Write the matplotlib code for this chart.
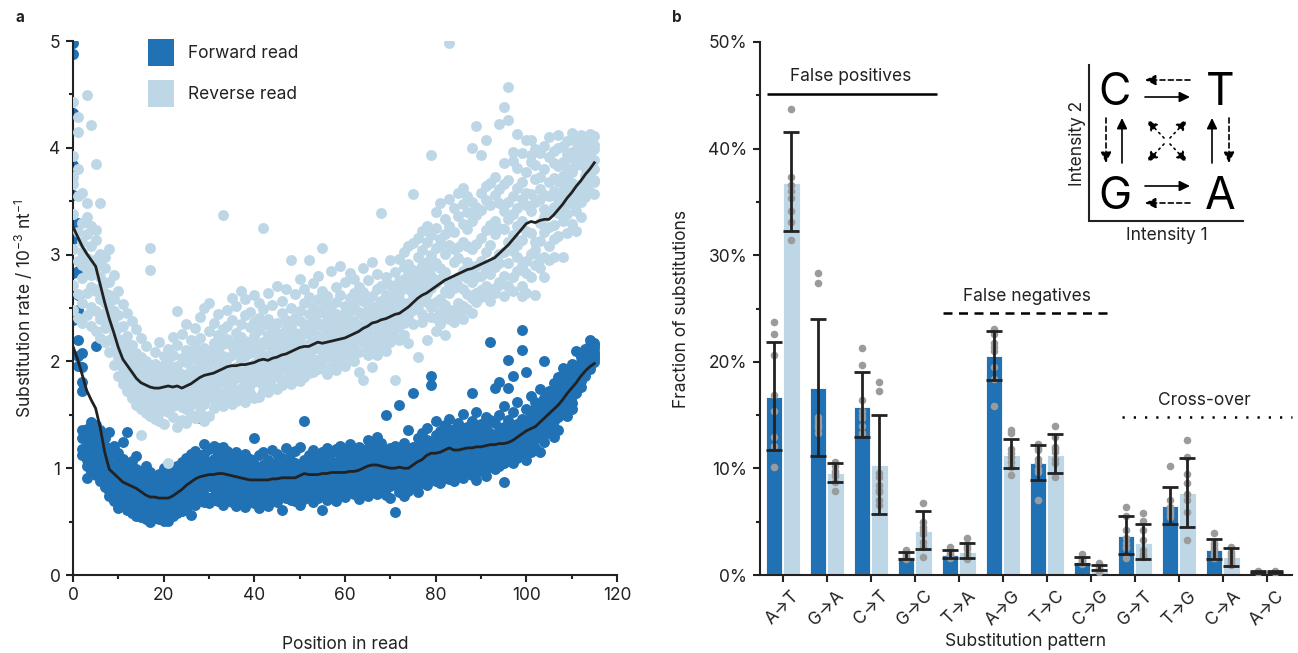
import numpy as np
import matplotlib
matplotlib.use('Agg')
import matplotlib.pyplot as plt
from matplotlib.patches import Patch
from matplotlib.ticker import MultipleLocator, FuncFormatter

plt.rcParams['font.family'] = ['Inter', 'DejaVu Sans']
plt.rcParams['mathtext.fontset'] = 'custom'
plt.rcParams['mathtext.rm'] = 'Inter'
plt.rcParams['mathtext.default'] = 'regular'
plt.rcParams['text.color'] = '#222222'
plt.rcParams['axes.labelcolor'] = '#222222'
plt.rcParams['xtick.color'] = '#222222'
plt.rcParams['ytick.color'] = '#222222'

DARK = '#2171b5'
LIGHT = '#bdd7e7'
INK = '#222222'
FS = 12.5

# ---------------- panel a data: substitution rate per read position ----------------
# one row per position (0..115), 8 samples per row
fwd_rows = """
4.98 4.88 4.33 3.84 3.56 3.15 2.83 2.39
3.30 2.62 2.41 2.20 2.85 2.05 1.96 2.48
2.08 1.95 1.81 1.72 1.36 1.28 1.18 1.12
1.37 1.31 1.19 1.26 1.08 0.91 1.02 1.14
1.43 1.22 1.33 1.05 0.96 1.17 1.28 0.99
2.14 1.40 1.18 1.29 1.09 0.94 1.03 1.23
1.36 1.12 1.25 0.97 1.06 0.88 1.19 1.01
1.28 1.15 0.93 1.07 0.86 1.21 0.99 0.82
1.34 1.03 1.18 0.90 0.79 1.11 0.95 0.74
1.12 0.96 1.21 0.84 0.69 1.02 0.89 0.77
1.05 0.92 0.71 1.14 0.81 0.98 0.63 0.87
0.99 1.09 0.76 0.85 0.66 0.93 1.25 0.72
1.34 0.85 0.96 0.72 0.61 0.90 0.79 1.02
0.94 0.82 1.07 0.70 0.58 0.87 0.66 0.75
1.11 0.78 0.91 0.68 0.55 0.99 0.73 0.62
0.88 0.97 0.66 0.81 0.54 0.74 0.92 0.60
1.02 0.75 0.86 0.63 0.52 0.70 0.94 0.58
0.83 0.96 0.61 0.73 0.50 0.78 0.67 0.55
0.91 0.69 0.79 0.60 0.53 0.84 0.64 0.74
0.86 0.71 0.95 0.57 0.52 0.76 0.65 0.81
1.00 0.68 0.81 0.58 0.51 0.73 0.62 0.89
0.93 0.66 0.77 0.60 0.51 0.84 0.71 0.56
0.80 0.97 0.64 0.74 0.55 0.88 0.69 0.59
1.02 0.78 0.87 0.65 0.58 0.72 0.93 0.61
0.91 1.06 0.68 0.81 0.60 0.75 0.99 0.86
1.10 0.85 0.96 0.72 0.62 0.79 1.02 0.67
0.94 1.13 0.81 0.56 0.88 0.75 1.04 0.69
1.16 0.91 0.99 0.74 0.66 0.85 1.08 0.79
1.47 0.93 1.05 0.80 0.70 0.98 0.86 1.12
1.23 0.84 1.02 0.75 0.92 0.68 1.13 0.96
0.97 1.18 0.83 0.72 1.06 0.89 0.67 1.01
1.09 0.86 1.21 0.74 0.95 0.70 1.03 0.81
0.93 1.14 0.78 1.02 0.69 0.88 1.19 0.84
1.20 0.82 0.97 0.73 1.08 0.90 0.66 1.01
0.89 1.05 0.77 1.16 0.94 0.71 0.85 0.99
1.12 0.79 0.91 0.68 1.03 0.87 0.74 0.96
0.84 1.07 0.95 0.72 0.88 1.15 0.65 0.81
0.98 0.76 1.10 0.83 0.69 0.92 1.01 0.80
1.06 0.87 0.73 0.97 0.64 1.13 0.82 0.90
0.81 0.94 1.09 0.70 0.86 0.75 1.00 0.93
1.28 0.88 0.79 1.04 0.67 0.92 0.84 0.97
0.91 1.12 0.76 0.85 0.63 0.99 0.87 0.80
1.03 0.78 0.93 0.68 1.15 0.82 0.89 0.72
0.86 1.01 0.74 1.08 0.90 0.65 0.95 0.83
1.17 0.89 0.80 0.96 0.71 1.02 0.85 0.77
0.92 0.75 1.06 0.84 0.98 0.68 1.13 0.87
0.80 1.10 0.91 0.61 1.00 0.86 0.76 0.94
1.04 0.83 0.96 0.72 1.19 0.88 0.79 0.93
0.87 1.07 0.70 0.95 0.82 1.14 0.90 0.78
1.00 0.79 1.16 0.86 0.69 0.93 1.05 0.84
0.91 1.20 0.83 1.02 0.74 0.97 0.88 0.66
1.44 0.86 1.08 0.77 0.99 0.92 0.71 1.03
0.95 0.81 1.12 0.89 0.73 1.04 0.84 0.97
1.09 0.90 0.76 1.17 0.85 0.94 0.68 1.01
0.82 1.06 0.93 0.72 1.13 0.87 0.99 0.80
1.02 0.61 0.88 1.15 0.79 0.96 1.08 0.85
0.93 1.11 0.77 1.00 0.86 0.70 1.19 0.91
1.07 0.84 0.98 0.74 1.14 0.89 0.81 1.03
0.88 1.18 0.92 0.79 1.05 0.69 0.95 1.01
1.12 0.83 1.03 0.90 0.75 1.21 0.87 0.97
0.95 1.09 0.80 1.16 0.88 0.99 0.73 1.04
1.01 0.86 1.23 0.93 0.78 1.08 0.91 0.82
0.89 1.13 0.97 0.76 1.05 0.84 1.18 0.94
1.20 0.92 0.83 1.07 0.95 0.71 1.02 0.88
0.96 1.15 1.04 0.81 1.10 0.90 0.77 0.99
1.08 0.87 1.19 0.96 0.74 1.03 0.92 1.26
0.93 1.22 1.00 0.85 1.11 0.79 1.06 0.97
1.14 0.98 0.84 1.09 0.91 1.29 0.76 1.02
1.01 0.88 1.17 0.95 0.80 1.06 1.24 0.92
0.90 1.50 1.03 0.86 1.12 0.97 0.75 1.08
1.10 0.94 0.83 1.19 1.00 0.89 1.05 0.72
0.96 1.21 0.87 1.04 0.59 1.13 0.92 0.99
1.59 1.06 0.91 1.15 0.81 0.98 1.09 0.78
1.02 0.93 1.24 0.86 1.11 0.74 0.97 1.07
0.88 1.17 1.00 0.83 1.36 0.95 1.08 0.79
1.12 0.97 1.70 0.90 1.05 0.82 1.20 0.99
1.01 1.28 0.89 1.14 0.93 1.06 0.78 1.19
1.24 0.95 1.10 0.86 1.33 1.02 0.91 1.07
1.09 1.38 0.94 1.18 0.84 1.04 1.26 0.99
1.86 1.78 1.12 0.97 1.23 1.05 0.90 1.15
1.02 1.31 1.16 0.93 1.08 1.44 0.88 1.20
1.27 1.05 0.95 1.19 1.12 0.86 1.35 1.01
1.11 1.40 1.00 1.22 0.92 1.15 1.06 1.29
1.33 0.97 1.17 1.08 1.46 0.90 1.24 1.03
1.05 1.26 1.14 0.95 1.37 1.10 0.88 1.19
1.21 1.09 1.42 1.00 1.16 0.93 1.30 1.07
1.14 1.34 0.98 1.23 1.06 1.51 0.91 1.18
1.28 1.02 1.19 0.96 1.39 1.11 1.25 1.04
1.70 1.13 1.31 1.05 1.22 0.94 1.16 1.44
1.09 1.36 1.20 1.00 1.27 1.12 0.89 1.53
1.25 1.07 1.41 1.15 0.97 1.32 1.11 1.21
1.17 1.48 1.03 1.26 1.12 1.38 0.93 1.21
2.18 1.22 1.09 1.33 1.16 1.01 1.28 1.45
1.75 1.14 1.30 1.06 1.24 1.42 0.99 1.19
1.27 1.81 1.10 1.35 1.18 1.02 1.50 1.23
1.20 1.39 1.13 1.58 1.29 1.05 1.24 0.87
2.01 1.75 1.16 1.34 1.08 1.27 1.45 1.21
1.86 1.23 1.37 1.12 1.53 1.28 1.05 1.31
1.30 1.62 1.18 1.41 1.25 1.10 1.36 1.22
2.29 2.11 1.27 1.46 1.14 1.33 1.21 1.39
1.34 1.90 1.22 1.55 1.17 1.43 1.29 1.08
1.44 1.28 1.68 1.36 1.15 1.51 1.25 1.39
1.38 1.62 1.31 1.47 1.19 1.56 1.34 1.27
1.49 1.35 1.74 1.42 1.15 1.58 1.30 1.45
2.00 1.51 1.39 1.66 1.46 1.25 1.57 1.42
1.58 1.44 1.72 1.50 1.33 1.63 1.47 1.39
1.62 1.49 1.80 1.55 1.29 1.68 1.53 1.44
1.70 1.56 1.85 1.48 1.64 1.36 1.75 1.59
1.94 1.77 1.62 1.88 1.51 1.70 1.58 1.66
1.78 1.65 1.92 1.58 1.84 1.72 1.49 1.69
1.61 1.86 1.74 1.98 1.68 1.81 1.55 1.76
2.10 1.89 1.77 1.95 1.70 1.84 1.92 1.80
1.93 2.04 1.82 1.99 1.88 1.76 2.08 1.91
2.02 1.90 2.12 1.97 1.86 2.06 1.95 1.99
2.20 2.05 1.96 2.15 2.01 2.09 1.93 2.11
2.09 2.17 2.02 2.13 1.99 2.07 2.15 2.04
"""

rev_rows = """
4.43 3.92 3.73 3.66 3.38 3.05 2.72 2.48
4.29 4.15 3.55 3.21 2.94 2.63 2.41 3.80
3.58 2.36 3.30 2.78 3.02 2.55 3.12 2.90
4.49 3.48 2.86 3.19 2.43 2.64 2.97 3.35
4.21 2.70 3.27 2.51 2.92 3.08 2.33 2.81
3.85 3.23 2.47 3.14 2.66 2.88 2.96 2.28
3.48 2.79 3.01 2.40 2.58 2.69 2.22 2.91
2.98 2.45 2.87 2.18 2.64 2.31 2.73 2.55
3.05 2.39 2.62 2.09 2.74 2.20 2.51 2.33
2.81 2.11 2.47 2.58 1.97 2.26 2.35 2.19
2.66 1.86 2.31 2.43 2.12 1.98 2.21 2.04
2.54 2.33 1.79 2.19 1.95 2.02 2.11 1.90
2.10 2.45 1.72 2.24 1.94 1.83 2.03 1.88
2.38 1.66 2.02 1.86 2.15 1.76 1.96 1.82
1.97 2.30 1.59 1.81 2.08 1.70 1.90 1.76
2.22 1.93 1.31 2.04 1.66 1.85 1.55 1.73
1.88 2.14 1.52 1.79 1.67 2.00 1.61 1.74
3.06 2.86 1.49 1.72 1.95 1.58 1.83 1.68
2.09 1.71 1.46 1.89 1.62 1.80 1.54 1.98
1.84 2.18 1.44 1.75 1.59 1.93 1.67 1.52
2.05 1.73 1.41 1.86 1.56 1.97 1.64 1.79
1.05 1.91 1.70 2.12 1.53 1.82 1.63 2.01
1.94 1.66 2.23 1.48 1.77 1.87 1.58 2.06
2.15 1.81 1.39 1.96 1.69 2.47 1.60 1.74
1.76 2.03 1.45 1.88 1.62 2.26 1.71 1.57
2.35 1.85 1.42 1.99 1.68 1.78 1.55 2.11
1.83 2.20 1.50 1.93 1.64 2.08 1.73 1.59
2.31 1.79 1.47 2.02 1.70 1.89 1.61 2.14
1.95 2.42 1.53 1.84 2.07 1.66 1.77 2.22
2.50 1.88 1.44 2.13 1.72 1.98 1.60 2.04
1.99 2.28 1.49 1.81 2.10 1.67 1.91 2.55
2.17 1.86 1.56 2.36 1.74 2.01 1.64 2.09
1.90 2.44 1.62 2.12 1.79 2.25 1.70 1.97
3.37 2.05 1.58 2.30 1.83 1.94 1.68 2.16
2.21 1.80 2.48 1.65 2.02 1.89 2.33 1.73
1.93 2.39 1.60 2.14 1.76 2.59 1.86 2.06
2.27 1.84 2.52 1.69 2.09 1.95 1.63 2.18
2.00 2.66 1.75 2.23 1.88 2.11 1.67 2.35
2.43 1.91 1.62 2.19 1.82 2.05 2.58 1.73
1.87 2.32 2.08 1.70 2.46 1.96 2.13 1.78
2.24 1.83 2.62 1.98 1.66 2.16 2.37 1.90
1.67 2.12 2.29 1.94 2.55 1.81 2.03 2.41
3.25 2.06 1.85 2.34 1.72 2.18 1.97 2.49
2.15 1.79 2.40 1.99 2.64 1.88 2.25 1.71
1.92 2.53 2.09 1.76 2.31 2.02 1.84 2.20
2.36 1.86 2.14 2.71 1.95 2.27 1.74 2.04
2.01 2.45 1.80 2.22 2.10 1.92 2.57 1.78
2.30 1.93 2.68 2.07 1.83 2.39 2.17 1.97
2.95 2.12 1.87 2.33 2.02 2.50 1.79 2.24
2.19 2.63 1.95 2.41 1.84 2.27 2.08 2.00
2.05 2.38 1.82 2.77 2.14 1.91 2.47 2.22
2.29 1.96 2.55 2.11 1.85 2.35 2.03 2.68
2.95 2.16 1.89 2.44 2.07 2.60 1.98 2.26
2.40 2.02 2.73 2.19 1.90 2.51 2.12 2.31
2.13 2.58 1.93 2.36 2.24 2.80 2.01 2.45
3.06 2.21 1.97 2.49 2.10 2.66 2.33 2.04
2.27 2.04 2.61 2.15 2.42 1.88 2.54 2.18
2.09 2.48 2.23 2.85 1.95 2.37 2.12 2.30
2.44 2.14 2.70 2.00 2.29 2.56 1.92 2.38
2.20 2.62 2.06 2.41 2.17 2.89 2.28 1.99
2.52 2.11 2.35 1.96 2.74 2.25 2.45 2.08
2.16 2.59 2.32 2.03 2.47 2.19 2.83 2.37
2.38 2.07 2.64 2.26 2.13 2.51 2.00 2.77
2.29 2.70 2.09 2.46 2.21 2.58 2.34 1.90
2.57 2.18 2.43 1.83 2.87 2.32 2.65 2.24
2.12 2.49 2.27 2.76 2.06 2.40 2.22 2.55
2.44 2.20 2.93 2.35 2.61 2.11 2.48 1.95
2.33 2.68 2.15 2.52 2.26 2.82 2.06 2.43
3.39 2.28 2.57 2.14 2.46 2.71 2.37 2.19
2.50 2.24 2.79 2.38 2.10 2.62 2.31 2.54
2.36 2.72 2.18 2.60 2.44 2.95 2.27 2.49
2.61 1.83 2.41 2.84 2.30 2.53 2.68 2.22
2.47 2.75 2.33 2.58 2.96 2.20 2.64 2.39
2.70 2.36 2.88 2.51 2.25 2.77 2.45 3.02
2.55 2.91 2.42 2.68 2.17 2.81 3.08 2.50
3.57 2.62 2.35 2.86 2.73 2.48 3.11 2.57
2.66 2.98 2.04 2.79 2.52 3.16 2.60 2.84
2.89 2.44 3.04 2.71 2.58 3.22 2.37 2.76
2.73 3.12 2.56 2.93 2.20 2.85 3.27 2.64
3.93 2.80 2.51 3.00 2.69 3.18 2.42 2.88
2.92 2.41 3.25 2.56 3.06 2.28 2.73 3.40
2.58 3.15 2.46 2.87 3.48 2.35 2.77 3.09
2.25 3.01 2.53 3.33 2.66 3.19 2.42 2.84
4.98 2.64 3.09 2.40 3.27 2.73 3.52 2.48
2.76 3.21 2.48 3.44 2.69 3.05 2.37 2.93
3.07 2.55 3.36 2.71 3.58 2.44 2.97 2.79
2.68 3.29 2.52 3.12 2.85 3.47 2.40 3.62
3.08 2.63 3.40 2.78 3.24 2.49 3.55 2.93
4.00 2.83 2.59 3.31 2.74 3.49 2.45 3.05
4.20 2.89 3.37 2.56 3.10 2.64 3.45 2.79
3.93 2.94 2.60 3.42 2.67 3.16 2.80 3.58
4.07 3.02 2.66 3.51 2.71 3.23 2.86 3.64
2.91 3.46 2.57 3.67 3.09 2.63 3.28 2.82
3.19 2.69 3.56 2.95 3.73 2.64 3.31 2.88
4.22 3.25 2.74 3.61 3.01 2.72 3.48 2.92
4.38 3.86 3.02 3.41 2.80 2.61 3.24 3.66
4.57 4.26 3.33 2.92 3.70 2.71 3.12 3.49
3.18 3.88 2.79 3.55 3.03 3.96 2.66 3.38
4.13 3.27 2.98 3.62 2.85 3.44 3.09 3.81
3.52 3.14 3.95 2.89 3.68 2.71 3.31 2.61
3.58 3.22 4.07 2.94 3.77 2.64 3.46 2.83
4.07 3.41 3.01 3.87 2.79 3.57 3.20 3.93
3.71 3.12 3.99 2.62 3.49 3.04 3.84 2.90
3.30 3.95 2.96 3.73 3.13 3.52 2.87 3.61
2.79 3.56 3.21 4.02 3.35 3.80 2.98 3.43
3.68 3.40 4.10 3.26 3.91 3.08 3.55 2.95
3.45 3.97 3.28 3.72 2.98 3.60 3.86 3.15
3.83 3.52 4.12 3.39 3.69 3.17 4.00 3.58
2.98 3.66 4.02 3.44 3.87 3.31 3.55 3.74
3.20 3.81 3.49 4.06 3.63 3.94 3.38 3.70
3.90 3.58 4.14 3.47 3.96 3.67 3.29 3.77
3.97 3.62 4.05 3.41 3.84 3.51 3.93 3.22
4.12 3.49 3.89 3.66 4.01 3.58 3.94 3.35
3.86 4.09 3.63 3.99 3.74 4.04 3.54 3.81
4.13 3.88 3.71 4.07 3.59 4.00 3.76 3.93
3.89 3.57 4.11 3.80 3.99 3.70 4.03 3.68
"""

# smoothed trend, one value per position
fwd_trend = [2.14, 2.02, 1.88, 1.73, 1.64, 1.56, 1.38, 1.15, 0.99, 0.95,
             0.91, 0.87, 0.85, 0.83, 0.81, 0.78, 0.75, 0.73, 0.73, 0.72,
             0.72, 0.72, 0.74, 0.77, 0.80, 0.84, 0.87, 0.90, 0.92, 0.93,
             0.94, 0.94, 0.95, 0.95, 0.94, 0.93, 0.92, 0.91, 0.90, 0.89,
             0.89, 0.89, 0.89, 0.89, 0.90, 0.90, 0.91, 0.91, 0.91, 0.91,
             0.93, 0.95, 0.94, 0.94, 0.94, 0.95, 0.95, 0.96, 0.96, 0.96,
             0.96, 0.97, 0.97, 0.98, 1.00, 1.02, 1.03, 1.03, 1.02, 1.01,
             1.00, 1.00, 1.01, 1.00, 1.00, 1.03, 1.06, 1.08, 1.12, 1.14,
             1.14, 1.15, 1.17, 1.19, 1.17, 1.17, 1.18, 1.19, 1.19, 1.20,
             1.20, 1.21, 1.22, 1.22, 1.23, 1.23, 1.24, 1.26, 1.29, 1.32,
             1.35, 1.37, 1.39, 1.43, 1.47, 1.51, 1.55, 1.59, 1.64, 1.70,
             1.75, 1.80, 1.86, 1.91, 1.95, 1.98]
rev_trend = [3.26, 3.17, 3.08, 3.01, 2.95, 2.89, 2.72, 2.55, 2.40, 2.27,
             2.13, 2.02, 1.96, 1.90, 1.84, 1.80, 1.78, 1.76, 1.75, 1.75,
             1.76, 1.77, 1.76, 1.77, 1.75, 1.77, 1.79, 1.82, 1.85, 1.87,
             1.88, 1.89, 1.91, 1.93, 1.95, 1.96, 1.96, 1.97, 1.97, 1.98,
             1.99, 2.01, 2.02, 2.01, 2.03, 2.04, 2.06, 2.07, 2.09, 2.11,
             2.13, 2.14, 2.14, 2.16, 2.18, 2.17, 2.18, 2.19, 2.20, 2.21,
             2.22, 2.24, 2.26, 2.28, 2.31, 2.33, 2.36, 2.37, 2.39, 2.40,
             2.42, 2.44, 2.45, 2.48, 2.51, 2.55, 2.59, 2.62, 2.64, 2.67,
             2.70, 2.73, 2.76, 2.78, 2.80, 2.82, 2.84, 2.86, 2.87, 2.89,
             2.91, 2.93, 2.95, 2.97, 3.01, 3.05, 3.09, 3.14, 3.19, 3.24,
             3.29, 3.31, 3.30, 3.32, 3.33, 3.33, 3.37, 3.42, 3.47, 3.53,
             3.58, 3.64, 3.69, 3.75, 3.80, 3.86]

# ---------------- panel b data: fraction of substitutions (%) ----------------
patterns = ['A→T', 'G→A', 'C→T', 'G→C', 'T→A', 'A→G',
            'T→C', 'C→G', 'G→T', 'T→G', 'C→A', 'A→C']
fwd_mean = [16.7, 17.5, 15.8, 1.7, 1.9, 20.5, 10.5, 1.2, 3.65, 6.5, 2.35, 0.3]
fwd_lo = [11.7, 11.2, 12.9, 1.5, 1.6, 18.3, 8.9, 1.0, 1.95, 4.8, 1.5, 0.22]
fwd_hi = [21.9, 24.0, 19.0, 2.2, 2.3, 22.9, 12.2, 1.7, 5.5, 8.3, 3.4, 0.38]
rev_mean = [36.8, 9.6, 10.3, 4.1, 2.2, 11.3, 11.3, 0.7, 3.0, 7.7, 1.7, 0.3]
rev_lo = [32.3, 8.7, 5.7, 2.4, 1.6, 10.0, 9.6, 0.5, 1.5, 4.5, 0.85, 0.22]
rev_hi = [41.6, 10.5, 15.0, 6.0, 3.0, 12.8, 13.2, 0.9, 4.8, 11.0, 2.5, 0.38]

fwd_pts = [[23.7, 22.6, 20.6, 16.9, 15.4, 12.9, 12.1, 10.1],
           [28.3, 27.4, 14.8, 14.0, 13.3, 13.8, 14.5, 14.2],
           [21.3, 19.7, 16.4, 15.4, 14.7, 14.0, 13.3, 15.0],
           [2.3, 2.0, 1.6, 1.8, 1.7, 1.5, 2.1],
           [2.6, 2.0, 1.6, 1.9, 2.2, 1.8],
           [23.1, 22.6, 21.8, 21.4, 19.5, 18.4, 15.9, 21.0],
           [11.9, 10.9, 9.7, 7.0, 11.7, 12.3, 10.5, 9.9],
           [2.0, 1.6, 1.2, 1.3, 1.1, 1.0, 1.4, 1.5],
           [6.4, 5.5, 4.2, 2.6, 1.6, 3.5, 3.0, 2.5],
           [10.2, 7.0, 6.4, 5.8, 5.4, 6.0, 5.6, 6.2],
           [3.9, 3.0, 2.3, 1.7, 2.5, 1.6, 2.0, 2.8],
           [0.35, 0.30, 0.25, 0.30, 0.28, 0.32]]
rev_pts = [[43.7, 37.3, 36.0, 35.4, 34.1, 33.1, 31.4, 36.6],
           [10.6, 9.8, 8.7, 7.9, 10.2, 9.6, 9.3],
           [18.1, 17.3, 9.2, 8.4, 7.8, 7.0, 6.6, 8.0, 9.6],
           [6.8, 4.2, 3.1, 1.7, 4.5, 3.8, 5.0, 2.6],
           [3.5, 2.6, 1.5, 2.0, 2.4, 1.7, 2.9],
           [13.6, 13.3, 11.4, 11.1, 10.1, 9.4, 11.8, 10.6],
           [14.0, 12.9, 12.0, 10.5, 9.2, 11.5, 10.9, 11.8],
           [1.1, 0.6, 0.3, 0.8, 0.7, 0.9, 0.5, 0.6],
           [5.8, 5.1, 4.2, 3.3, 2.3, 1.7, 2.0, 1.8],
           [12.7, 11.1, 9.5, 8.6, 7.6, 7.0, 5.9, 3.3],
           [2.6, 2.0, 1.2, 1.5, 1.8, 1.0, 0.9, 2.2],
           [0.30, 0.25, 0.35, 0.30, 0.28, 0.32]]


def parse_rows(txt):
    return np.array([[float(v) for v in line.split()] for line in txt.strip().splitlines()])


def style_axis(ax):
    for s in ['top', 'right']:
        ax.spines[s].set_visible(False)
    for s in ['left', 'bottom']:
        ax.spines[s].set_linewidth(1.5)
        ax.spines[s].set_color(INK)
    ax.tick_params(which='major', length=5, width=1.5, labelsize=FS, pad=4)
    ax.tick_params(which='minor', length=3, width=1.5)


W, H = 1298, 653
fig = plt.figure(figsize=(W / 100, H / 100), dpi=100)

# ---------------- panel a ----------------
fwd = parse_rows(fwd_rows)
rev = parse_rows(rev_rows)
pos = np.arange(len(fwd))

axa = fig.add_axes([73 / W, 78 / H, 544 / W, 534 / H])
axa.scatter(np.repeat(pos, fwd.shape[1]), fwd.ravel(), s=62, color=DARK, lw=0, zorder=2)
axa.scatter(np.repeat(pos, rev.shape[1]), rev.ravel(), s=62, color=LIGHT, lw=0, zorder=3)
axa.plot(pos, fwd_trend, color=INK, lw=2.0, zorder=4)
axa.plot(pos, rev_trend, color=INK, lw=2.0, zorder=4)
axa.set_xlim(0, 120)
axa.set_ylim(0, 5)
axa.xaxis.set_major_locator(MultipleLocator(20))
axa.xaxis.set_minor_locator(MultipleLocator(10))
axa.yaxis.set_major_locator(MultipleLocator(1))
axa.yaxis.set_minor_locator(MultipleLocator(0.5))
style_axis(axa)
axa.set_xlabel('Position in read', fontsize=FS, labelpad=23)
axa.set_ylabel('Substitution rate / 10$^{-3}$ nt$^{-1}$', fontsize=FS, labelpad=10)
handles = [Patch(facecolor=DARK, edgecolor='none', label='Forward read'),
           Patch(facecolor=LIGHT, edgecolor='none', label='Reverse read')]
axa.legend(handles=handles, loc='upper left', bbox_to_anchor=(0.138, 1.004),
           frameon=False, fontsize=FS, handlelength=1.5, handleheight=2.0,
           handletextpad=0.8, labelspacing=0.85, borderpad=0, borderaxespad=0)

# ---------------- panel b ----------------
axb = fig.add_axes([760 / W, 78 / H, 532 / W, 533 / H])
x = np.arange(len(patterns))
bw = 0.37
off = 0.195
axb.bar(x - off, fwd_mean, width=bw, color=DARK, edgecolor='white', lw=0.6, zorder=2)
axb.bar(x + off, rev_mean, width=bw, color=LIGHT, edgecolor='white', lw=0.6, zorder=2)
for i in range(len(patterns)):
    axb.scatter([x[i] - off] * len(fwd_pts[i]), fwd_pts[i], s=30, color='#9b9b9b', lw=0, zorder=3)
    axb.scatter([x[i] + off] * len(rev_pts[i]), rev_pts[i], s=30, color='#9b9b9b', lw=0, zorder=3)
fm = np.array(fwd_mean)
rm = np.array(rev_mean)
axb.errorbar(x - off, fm, yerr=[fm - np.array(fwd_lo), np.array(fwd_hi) - fm], fmt='none',
             ecolor=INK, elinewidth=2, capsize=6, capthick=2, zorder=4)
axb.errorbar(x + off, rm, yerr=[rm - np.array(rev_lo), np.array(rev_hi) - rm], fmt='none',
             ecolor=INK, elinewidth=2, capsize=6, capthick=2, zorder=4)
axb.set_xlim(-0.52, 11.57)
axb.set_ylim(0, 50)
axb.set_xticks(x)
axb.set_xticklabels(patterns, rotation=45)
axb.yaxis.set_major_locator(MultipleLocator(10))
axb.yaxis.set_minor_locator(MultipleLocator(5))
axb.yaxis.set_major_formatter(FuncFormatter(lambda v, p: f'{v:.0f}%'))
style_axis(axb)
axb.set_xlabel('Substitution pattern', fontsize=FS, labelpad=3)
axb.set_ylabel('Fraction of substitutions', fontsize=FS, labelpad=13)

# group annotations
axb.plot([-0.36, 3.5], [45.1, 45.1], color='black', lw=1.8, solid_capstyle='butt', clip_on=False)
axb.text(1.55, 46.8, 'False positives', ha='center', va='center', fontsize=FS)
axb.plot([3.64, 7.5], [24.6, 24.6], color='black', lw=1.8, ls=(0, (3.6, 2.6)), clip_on=False)
axb.text(5.55, 26.1, 'False negatives', ha='center', va='center', fontsize=FS)
axb.plot([7.7, 11.57], [14.8, 14.8], color='black', lw=1.8, ls=(0, (0.9, 3.6)), clip_on=False)
axb.text(9.59, 16.4, 'Cross-over', ha='center', va='center', fontsize=FS)

# ---------------- inset diagram (pixel coordinates) ----------------
axi = fig.add_axes([1060 / W, 1 - 250 / H, 190 / W, 195 / H])
axi.set_xlim(1060, 1250)
axi.set_ylim(250, 55)
axi.axis('off')
axi.plot([1089, 1089, 1243], [65, 221, 221], color=INK, lw=1.5, solid_joinstyle='miter')
for ch, cx, cy in [('C', 1115, 105), ('T', 1220, 105), ('G', 1115, 209), ('A', 1220, 209)]:
    axi.text(cx, cy, ch, ha='center', va='baseline', fontsize=32, color='black')


def arrow(x0, y0, x1, y1, ls):
    axi.annotate('', xy=(x1, y1), xytext=(x0, y0),
                 arrowprops=dict(arrowstyle='-|>,head_length=0.45,head_width=0.22',
                                 lw=1.2, ls=ls, color='black', shrinkA=0, shrinkB=0,
                                 mutation_scale=14))


arrow(1190, 80, 1145, 80, (0, (3, 2)))
arrow(1145, 97, 1190, 97, '-')
arrow(1145, 186, 1190, 186, '-')
arrow(1190, 203, 1145, 203, (0, (3, 2)))
arrow(1106, 118, 1106, 163, (0, (3, 2)))
arrow(1122, 163, 1122, 118, '-')
arrow(1212, 163, 1212, 118, '-')
arrow(1229, 118, 1229, 163, (0, (3, 2)))
for dx, dy in [(-1, -1), (1, -1), (-1, 1), (1, 1)]:
    arrow(1167 + 3 * dx, 141 + 3 * dy, 1167 + 20 * dx, 141 + 21 * dy, (0, (1, 2.5)))
axi.text(1078, 143, 'Intensity 2', rotation=90, ha='center', va='center', fontsize=FS)
axi.text(1167, 236, 'Intensity 1', ha='center', va='center', fontsize=FS)

fig.text(16 / W, 1 - 17 / H, 'a', fontsize=11, fontweight='bold', va='center')
fig.text(672 / W, 1 - 17 / H, 'b', fontsize=11, fontweight='bold', va='center')

fig.savefig('out.png', dpi=100)
